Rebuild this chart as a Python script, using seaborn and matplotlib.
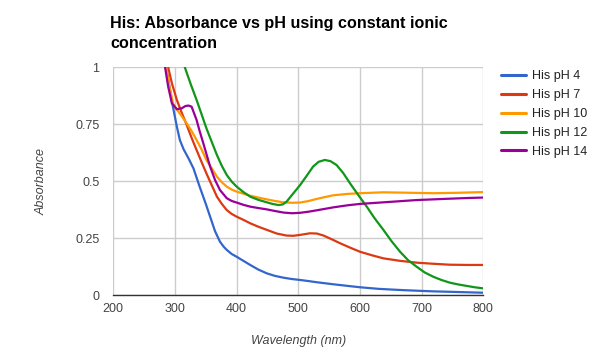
#导入绘图所需的库
import numpy as np
import pandas as pd
import matplotlib
matplotlib.use("Agg")
import matplotlib.pyplot as plt
import seaborn as sns

# 各条曲线的读数（波长nm，吸光度）
wl_ph4 = [278, 286, 295, 303, 308, 314, 322, 330, 340, 350, 357, 365, 373, 379, 384, 392, 400, 411, 422, 435, 449, 462, 476, 490, 503, 517, 530, 557, 600, 630, 665, 700, 719, 760, 800]
abs_ph4 = [1.12, 1.0, 0.85, 0.74, 0.68, 0.64, 0.60, 0.556, 0.476, 0.40, 0.344, 0.28, 0.234, 0.212, 0.198, 0.18, 0.168, 0.15, 0.132, 0.112, 0.095, 0.084, 0.076, 0.07, 0.066, 0.061, 0.056, 0.047, 0.034, 0.027, 0.022, 0.018, 0.016, 0.013, 0.010]

wl_ph7 = [282, 289, 295, 303, 311, 319, 327, 335, 343, 351, 360, 368, 376, 384, 392, 400, 411, 422, 435, 449, 465, 481, 492, 503, 519, 530, 541, 554, 568, 584, 600, 620, 638, 665, 692, 720, 746, 775, 800]
abs_ph7 = [1.07, 1.0, 0.93, 0.857, 0.80, 0.747, 0.69, 0.637, 0.585, 0.534, 0.48, 0.432, 0.40, 0.373, 0.356, 0.344, 0.33, 0.315, 0.30, 0.286, 0.27, 0.261, 0.26, 0.264, 0.271, 0.27, 0.261, 0.245, 0.227, 0.208, 0.19, 0.174, 0.161, 0.15, 0.142, 0.137, 0.133, 0.132, 0.132]

wl_ph10 = [283, 290, 297, 303, 311, 319, 327, 335, 343, 351, 360, 368, 376, 384, 392, 400, 411, 422, 435, 449, 462, 476, 490, 503, 517, 530, 543, 557, 580, 600, 638, 680, 719, 760, 800]
abs_ph10 = [1.05, 0.93, 0.84, 0.815, 0.785, 0.754, 0.72, 0.681, 0.64, 0.593, 0.555, 0.52, 0.495, 0.476, 0.463, 0.454, 0.445, 0.436, 0.428, 0.42, 0.413, 0.407, 0.405, 0.406, 0.413, 0.422, 0.43, 0.438, 0.444, 0.447, 0.451, 0.449, 0.447, 0.449, 0.452]

wl_ph12 = [305, 316, 325, 335, 343, 351, 360, 368, 376, 384, 392, 400, 411, 422, 435, 449, 458, 468, 475, 481, 490, 503, 514, 524, 533, 543, 552, 562, 573, 584, 597, 611, 624, 638, 651, 665, 678, 692, 705, 719, 732, 746, 760, 773, 786, 800]
abs_ph12 = [1.08, 1.0, 0.93, 0.857, 0.795, 0.732, 0.67, 0.615, 0.567, 0.527, 0.498, 0.476, 0.452, 0.432, 0.418, 0.407, 0.40, 0.395, 0.398, 0.41, 0.44, 0.483, 0.525, 0.564, 0.585, 0.593, 0.588, 0.571, 0.535, 0.49, 0.44, 0.388, 0.336, 0.286, 0.237, 0.19, 0.153, 0.124, 0.099, 0.08, 0.066, 0.054, 0.046, 0.04, 0.034, 0.029]

wl_ph14 = [280, 284, 289, 295, 303, 311, 317, 322, 327, 335, 340, 346, 352, 357, 365, 373, 384, 392, 400, 411, 422, 435, 449, 462, 476, 490, 503, 517, 530, 557, 580, 600, 638, 665, 692, 719, 746, 775, 800]
abs_ph14 = [1.07, 1.0, 0.915, 0.842, 0.816, 0.82, 0.83, 0.832, 0.827, 0.769, 0.72, 0.666, 0.61, 0.564, 0.505, 0.461, 0.425, 0.413, 0.406, 0.396, 0.388, 0.382, 0.376, 0.369, 0.362, 0.359, 0.361, 0.366, 0.372, 0.385, 0.394, 0.40, 0.407, 0.412, 0.417, 0.42, 0.423, 0.426, 0.428]

series_names = ["His pH 4", "His pH 7", "His pH 10", "His pH 12", "His pH 14"]
series_colors = ["#3366cc", "#dc3912", "#ff9900", "#109618", "#990099"]
x_ticks = [200, 300, 400, 500, 600, 700, 800]
y_ticks = [0, 0.25, 0.5, 0.75, 1]
y_tick_labels = ["0", "0.25", "0.5", "0.75", "1"]

# 把各组数据拼成长表，交给seaborn按hue分组画线
frames = []
for name, wl, ab in zip(series_names,
                        [wl_ph4, wl_ph7, wl_ph10, wl_ph12, wl_ph14],
                        [abs_ph4, abs_ph7, abs_ph10, abs_ph12, abs_ph14]):
    frames.append(pd.DataFrame({"wavelength": wl, "absorbance": ab, "series": name}))
df = pd.concat(frames, ignore_index=True)

sns.set_style("white")
plt.rcParams['font.family'] = ['Liberation Sans', 'DejaVu Sans']

# 画布 593x360 像素
fig = plt.figure(figsize=(5.93, 3.6), dpi=100)
ax = fig.add_axes([113.3 / 593, 65 / 360, 370 / 593, 227.7 / 360])

sns.lineplot(data=df, x="wavelength", y="absorbance", hue="series",
             hue_order=series_names, palette=series_colors,
             estimator=None, sort=False, linewidth=1.6, ax=ax, legend=False)

# 坐标轴范围与刻度
ax.set_xlim(200, 800)
ax.set_ylim(0, 1)
ax.set_xticks(x_ticks)
ax.set_yticks(y_ticks)
ax.set_yticklabels(y_tick_labels)
ax.tick_params(axis='both', length=0, labelsize=9, labelcolor="#444444")
ax.tick_params(axis='x', pad=6)
ax.tick_params(axis='y', pad=10)

# 网格线：浅灰色
ax.grid(True, color="#cccccc", linewidth=1)
ax.set_axisbelow(True)
for side in ["top", "right", "left"]:
    ax.spines[side].set_visible(False)
ax.spines["bottom"].set_color("#333333")
ax.spines["bottom"].set_linewidth(1)

# 坐标轴标题（斜体）
ax.set_xlabel("Wavelength (nm)", fontsize=9, style="italic", color="#444444", labelpad=14)
ax.set_ylabel("Absorbance", fontsize=9, style="italic", color="#444444", labelpad=20)

# 标题
fig.text(110 / 593, 1 - 16 / 360, "His: Absorbance vs pH using constant ionic\nconcentration",
         fontsize=11.6, fontweight="bold", color="#000000", va="top", ha="left", linespacing=1.45)

# 图例放在右侧
handles = [plt.Line2D([0], [0], color=c, linewidth=2.2) for c in series_colors]
fig.legend(handles, series_names, loc="upper left", bbox_to_anchor=(490 / 593, 1 - 59 / 360),
           frameon=False, fontsize=9, handlelength=2.0, handletextpad=0.5,
           labelspacing=0.55, labelcolor="#222222")

plt.savefig("out.png", dpi=100)
